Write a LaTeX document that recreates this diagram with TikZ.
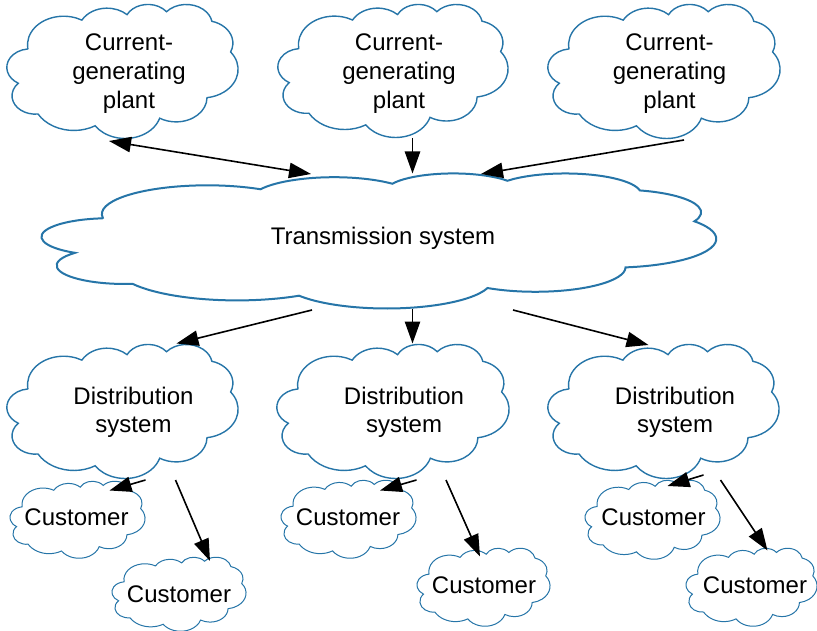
\documentclass[tikz,border=0pt]{standalone}
\usepackage{fontspec}
\setmainfont{Liberation Sans}
\usetikzlibrary{arrows.meta}

\definecolor{cloudblue}{RGB}{38,117,168}

% Cloud outline in a 43.2 x 43.2 frame, made of elliptical arcs.
% Each arc is given by its x radius, y radius, start angle and sweep,
% the angles measured geometrically from the ellipse centre; they are
% turned here into the parametric angles that TikZ's arc expects.
\def\cloudpath{(3.9,14.37)}
\newcommand\addcloudarc[4]{%
  \pgfmathsetmacro\arcpst{atan2(#1*sin(#3),#2*cos(#3))}%
  \pgfmathsetmacro\arcpen{atan2(#1*sin(#3+#4),#2*cos(#3+#4))}%
  \pgfmathsetmacro\arcpsw{mod(\arcpen-\arcpst+720,360)}%
  \xdef\cloudpath{\cloudpath\space arc[start angle=\arcpst,delta angle=\arcpsw,x radius=#1,y radius=#2]}%
}
\addcloudarc{6.753}{9.190}{-190.48748}{123.78053}
\addcloudarc{5.333}{7.267}{-144.10238}{89.94523}
\addcloudarc{4.365}{5.945}{-145.80792}{99.72302}
\addcloudarc{4.857}{6.595}{-130.98607}{117.24173}
\addcloudarc{5.333}{7.273}{-78.70888}{109.02692}
\addcloudarc{6.775}{9.220}{-46.26725}{130.26900}
\addcloudarc{5.785}{7.867}{0.62502}{114.03333}
\addcloudarc{6.752}{9.215}{22.45160}{115.17255}
\addcloudarc{7.720}{10.543}{66.24263}{75.71102}
\addcloudarc{4.360}{5.918}{-274.94208}{146.73557}
\addcloudarc{4.345}{5.945}{-246.82850}{152.51885}

% left, top, width, height, style
\newcommand\drawcloud[5]{%
  \draw[#5, shift={(#1,#2)}, xscale=#3/43.2, yscale=#4/43.2] \cloudpath -- cycle;
}

\tikzset{
  lbl/.style={font=\fontsize{18}{21.5}\selectfont, align=center, inner sep=0pt, text=black},
  bigcloud/.style={draw=cloudblue, fill=white, line width=1.05pt},
  widecloud/.style={draw=cloudblue, fill=white, line width=1.5pt},
  smallcloud/.style={draw=cloudblue, fill=white, line width=0.75pt},
  bigtip/.tip={Triangle[length=16.5pt,width=11.5pt]},
  conn/.style={line width=1.2pt, -bigtip},
  biconn/.style={line width=1.2pt, bigtip-bigtip},
}

\begin{document}
\begin{tikzpicture}[x=0.75pt, y=-0.75pt]
\useasboundingbox (0,0) rectangle (817,631);

% clouds
\drawcloud{7}{4}{231}{134}{bigcloud}
\drawcloud{278}{4}{230}{133}{bigcloud}
\drawcloud{548}{4}{232}{134}{bigcloud}
\drawcloud{42}{173}{674}{135}{widecloud}
\drawcloud{7}{344}{231}{134}{bigcloud}
\drawcloud{277}{344}{232}{134}{bigcloud}
\drawcloud{548}{344}{231}{134}{bigcloud}
\drawcloud{10}{481}{135}{77}{smallcloud}
\drawcloud{112}{557}{134}{74}{smallcloud}
\drawcloud{281}{480}{135}{78}{smallcloud}
\drawcloud{417}{548}{133}{78}{smallcloud}
\drawcloud{585}{480}{135}{79}{smallcloud}
\drawcloud{686}{548}{131}{78}{smallcloud}

% labels
\node[lbl] (plantA) at (129,73.5) {Current-\\generating\\plant};
\node[lbl] (plantB) at (399,73.5) {Current-\\generating\\plant};
\node[lbl] (plantC) at (669.5,73.5) {Current-\\generating\\plant};
\node[lbl] (trans) at (383,237.9) {Transmission system};
\node[lbl] (distA) at (133.5,412.2) {Distribution\\system};
\node[lbl] (distB) at (404,412.2) {Distribution\\system};
\node[lbl] (distC) at (675,412.2) {Distribution\\system};
\node[lbl] (custA1) at (76.5,517.4) {Customer};
\node[lbl] (custA2) at (179,594.4) {Customer};
\node[lbl] (custB1) at (348,517.4) {Customer};
\node[lbl] (custB2) at (484,585.4) {Customer};
\node[lbl] (custC1) at (653.5,517.4) {Customer};
\node[lbl] (custC2) at (755,585.4) {Customer};

% connector ends
\coordinate (plantA-out) at (109,141);
\coordinate (plantB-out) at (412.5,138);
\coordinate (plantC-out) at (684,140);
\coordinate (trans-inA) at (311,174);
\coordinate (trans-inB) at (412.5,173.5);
\coordinate (trans-inC) at (481,174);
\coordinate (trans-outA) at (312,310);
\coordinate (trans-outB) at (412.5,309);
\coordinate (trans-outC) at (513,310);
\coordinate (distA-in) at (176.5,343.5);
\coordinate (distB-in) at (412.5,343.5);
\coordinate (distC-in) at (648.5,345);
\coordinate (distA-out1) at (145.5,480);
\coordinate (distA-out2) at (175.5,480);
\coordinate (distB-out1) at (416.5,480);
\coordinate (distB-out2) at (446,480);
\coordinate (distC-out1) at (703.5,475);
\coordinate (distC-out2) at (720.5,480);
\coordinate (custA1-in) at (109.5,490.5);
\coordinate (custA2-in) at (210,561);
\coordinate (custB1-in) at (380,490.5);
\coordinate (custB2-in) at (480,556.5);
\coordinate (custC1-in) at (667.5,486);
\coordinate (custC2-in) at (767.5,550.5);

% connectors
\draw[biconn] (plantA-out) -- (trans-inA);
\draw[conn] (plantB-out) -- (trans-inB);
\draw[conn] (plantC-out) -- (trans-inC);
\draw[conn] (trans-outA) -- (distA-in);
\draw[conn] (trans-outB) -- (distB-in);
\draw[conn] (trans-outC) -- (distC-in);
\draw[conn] (distA-out1) -- (custA1-in);
\draw[conn] (distA-out2) -- (custA2-in);
\draw[conn] (distB-out1) -- (custB1-in);
\draw[conn] (distB-out2) -- (custB2-in);
\draw[conn] (distC-out1) -- (custC1-in);
\draw[conn] (distC-out2) -- (custC2-in);
\end{tikzpicture}
\end{document}
